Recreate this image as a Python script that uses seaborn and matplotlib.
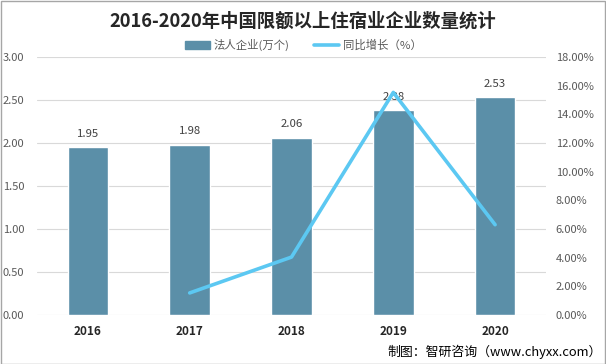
import numpy as np
import pandas as pd
import matplotlib
matplotlib.use("Agg")
import matplotlib.pyplot as plt
import seaborn as sns
from matplotlib.ticker import FuncFormatter
from matplotlib.patches import Patch
from matplotlib.lines import Line2D

# data
years = ["2016", "2017", "2018", "2019", "2020"]
firms = [1.95, 1.98, 2.06, 2.38, 2.53]          # 法人企业(万个)
growth = [np.nan, 1.54, 4.04, 15.53, 6.30]      # 同比增长(%)

sns.set_theme(style="white")
plt.rcParams['font.family'] = ['Noto Sans CJK SC', 'DejaVu Sans']

bar_color = "#5B8FA8"
line_color = "#5CC8F2"
text_gray = "#595959"

df = pd.DataFrame({"year": years, "firms": firms, "growth": growth})

fig = plt.figure(figsize=(6.06, 3.64), dpi=100)
ax1 = fig.add_axes([0.061, 0.1346, 0.84, 0.7088])

sns.barplot(data=df, x="year", y="firms", color=bar_color, width=0.40,
            saturation=1, ax=ax1, zorder=2)
ax1.set_ylim(0, 3)
ax1.set_yticks(np.arange(0, 3.01, 0.5))
ax1.yaxis.set_major_formatter(FuncFormatter(lambda v, p: f"{v:.2f}"))
ax1.set_xlim(-0.5, 4.5)
ax1.grid(axis="y", color="#d9d9d9", linewidth=0.8, zorder=0)
ax1.set_axisbelow(True)
ax1.set_xlabel("")
ax1.set_ylabel("")
for s in ax1.spines.values():
    s.set_visible(False)
ax1.tick_params(axis="y", colors=text_gray, labelsize=8, length=0, pad=9)
ax1.tick_params(axis="x", labelsize=8.5, length=0, pad=7)
for t in ax1.get_xticklabels():
    t.set_fontweight("bold")
    t.set_color("#262626")

for i, v in enumerate(firms):
    ax1.text(i, v + 0.1, f"{v:.2f}", ha="center", va="bottom",
             fontsize=8.2, color="#404040")

ax2 = ax1.twinx()
sns.lineplot(data=df, x="year", y="growth", color=line_color, linewidth=2.6,
             ax=ax2, zorder=3)
ax2.set_ylim(0, 18)
ax2.set_yticks(np.arange(0, 18.1, 2))
ax2.yaxis.set_major_formatter(FuncFormatter(lambda v, p: f"{v:.2f}%"))
ax2.set_ylabel("")
for s in ax2.spines.values():
    s.set_visible(False)
ax2.tick_params(axis="y", colors=text_gray, labelsize=8, length=0, pad=7)

# legend
handles = [Patch(color=bar_color), Line2D([0], [0], color=line_color, linewidth=2.6)]
fig.legend(handles, ["法人企业(万个)", "同比增长（%）"], loc="center",
           bbox_to_anchor=(0.5, 0.876), ncol=2, frameon=False, fontsize=8.2,
           handlelength=2.2, handleheight=0.6, columnspacing=2.2,
           labelcolor=text_gray, handletextpad=0.3)

fig.text(0.5, 0.942, "2016-2020年中国限额以上住宿业企业数量统计", ha="center",
         va="center", fontsize=13.2, fontweight="bold", color="#262626")
fig.text(0.993, 0.033, "制图：智研咨询（www.chyxx.com）", ha="right", va="center",
         fontsize=9.3, color="#000000")

# outer border
fig.patches.append(plt.Rectangle((0.001, 0.001), 0.997, 0.996, transform=fig.transFigure,
                                 fill=False, edgecolor="#a6a6a6", linewidth=1))

fig.savefig("out.png", dpi=100)
